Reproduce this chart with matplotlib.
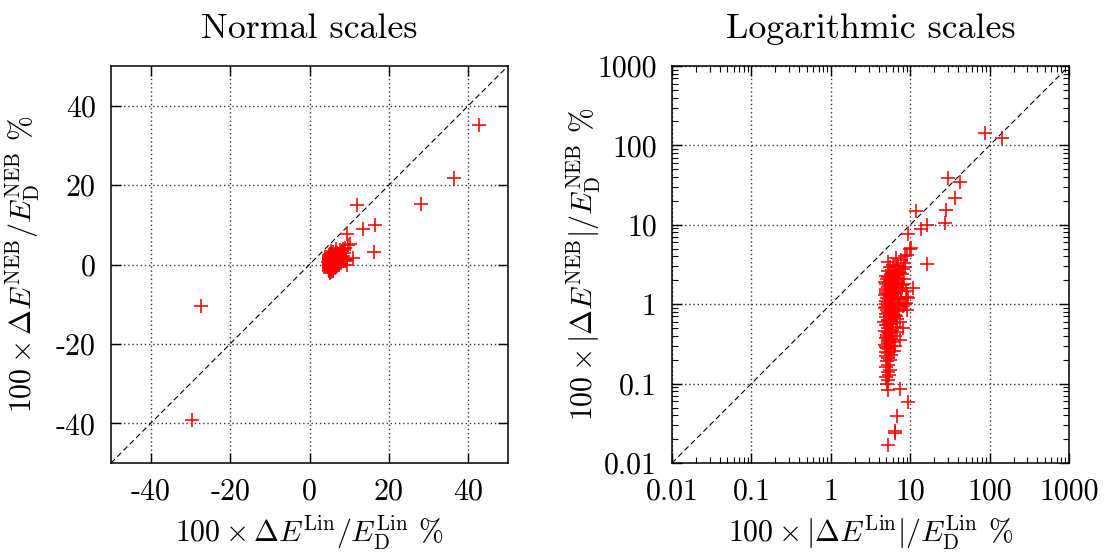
import matplotlib
matplotlib.use("Agg")
import matplotlib.pyplot as plt
import numpy as np
from matplotlib.ticker import FixedLocator, LogLocator, NullFormatter

# ---------------- data (percent errors) ----------------
# 100 x dE_Lin / E_D^Lin  (x) and 100 x dE_NEB / E_D^NEB (y), signed
lin_outliers = [42.6, 36.4, 28.0, 12.0, 16.4, 13.5, 9.4, 16.2, -27.4, -29.7, 87.0, 145.0,
                9.0, 9.8, 10.2, 11.0, 8.5, 6.8, 6.3]
neb_outliers = [35.1, 21.9, 15.2, 14.9, 10.0, 8.9, 7.7, 3.2, -10.5, -39.1, 142.0, 123.0,
                4.2, 4.9, 5.1, 1.6, 4.0, 3.0, 2.45]

lin_cluster = [5.2, 6.4, 6.5, 6.8, 9.5, 7.4, 5.2,
               5.1, 5.3, 5.0, 5.4, 5.2, 5.6, 5.0, 5.3, 5.1, 5.5, 5.2, 4.9, 5.8, 5.3, 5.0,
               6.2, 5.4, 5.1, 5.7, 4.8, 5.3, 6.0, 5.2, 5.5, 4.9, 6.4, 5.1, 5.6, 5.3, 4.8,
               5.9, 5.2, 6.6, 5.0, 5.4, 6.1, 4.7, 5.7, 5.2, 6.8, 5.0, 5.5, 6.3, 4.9, 5.8,
               5.3, 7.0, 5.1, 6.0, 4.8, 5.6, 6.5, 5.2, 7.3, 5.0, 5.9, 4.9, 6.2, 5.4, 6.9,
               5.1, 7.6, 5.7, 4.8, 6.4, 5.3, 5.0, 6.0, 7.1, 5.5, 4.9, 6.6, 5.2, 5.8, 7.8,
               5.0, 6.3, 5.4, 4.8, 6.9, 5.6, 5.1, 7.3, 6.1, 5.3, 4.9, 6.7, 5.7, 7.5, 5.2,
               6.4, 8.0, 5.5, 7.0, 6.0, 8.3, 5.3, 7.6, 6.6,
               5.0, 5.2, 5.4, 5.1, 5.3, 5.6, 4.9, 5.2, 5.5, 5.0, 5.8, 6.1, 5.4, 5.7, 6.3,
               5.1, 6.0, 6.7, 7.2, 5.9, 6.5, 7.9, 8.6, 6.2, 7.0,
               8.8, 9.2, 8.1, 7.7, 8.4, 9.0, 7.4, 6.9, 8.2, 7.1, 8.9, 7.8, 6.7, 8.5, 7.5,
               9.3, 6.8, 8.0, 7.3, 6.4]
neb_cluster = [0.017, -0.025, 0.024, 0.039, -0.059, 0.085, -0.082,
               0.10, -0.11, 0.12, 0.13, -0.14, 0.15, -0.16, 0.17, 0.19, -0.20, 0.21, -0.22,
               0.23, 0.24, 0.25, -0.26, 0.27, -0.28, 0.30, 0.31, -0.32, 0.33, 0.35, -0.36,
               0.38, 0.40, -0.41, 0.43, 0.45, -0.46, 0.48, 0.50, -0.52, 0.54, 0.56, -0.58,
               0.60, 0.62, -0.64, 0.66, 0.68, 0.70, -0.72, 0.75, 0.77, -0.80, 0.82, 0.85,
               0.87, -0.90, 0.92, 0.95, -0.97, 1.00, 1.02, -1.05, 1.10, 1.12, -1.15, 1.18,
               1.20, 1.22, -1.25, 1.30, 1.33, 1.36, -1.40, 1.43, 1.46, 1.50, -1.55, 1.60,
               1.65, -1.70, 1.72, 1.78, 1.82, -1.88, 1.92, 1.97, 2.00, -2.05, 2.10, 2.15,
               2.20, 2.28, 2.35, 2.40, 2.50, 2.60, 2.70, 2.80, 2.90, 3.00, 3.15, 3.30,
               3.40, 3.60, 3.80,
               0.29, -0.34, 0.44, -0.55, 0.63, 0.78, -0.93, 1.08, -1.27, 1.48, 0.57, -0.69,
               1.75, 2.25, -0.86, 0.39, 1.05, 2.05, 2.55, -1.35, 0.74, 1.58, 2.95, 1.40, 1.85,
               1.05, 1.25, 0.95, 1.55, 2.10, 0.85, 0.60, 0.45, 1.80, 1.15, 1.45, 2.40, 0.70,
               1.00, 0.35, 1.20, 1.65, 0.50, 0.90, 0.30]

lin_pct = lin_outliers + lin_cluster
neb_pct = neb_outliers + neb_cluster

lin_ticks = [-40, -20, 0, 20, 40]
lin_ticklabels = ["-40", "-20", "0", "20", "40"]
log_ticks = [0.01, 0.1, 1, 10, 100, 1000]
log_ticklabels = ["0.01", "0.1", "1", "10", "100", "1000"]

# ---------------- style ----------------
plt.rcParams["font.family"] = "serif"
plt.rcParams["font.serif"] = ["cmr10"]
plt.rcParams["mathtext.fontset"] = "cm"
plt.rcParams["axes.formatter.use_mathtext"] = True
plt.rcParams["font.size"] = 21.5

fig = plt.figure(figsize=(11.1, 5.54), dpi=100)
W, H = 1110, 554
rect1 = [111 / W, (H - 463) / H, 397 / W, 397 / H]
rect2 = [672 / W, (H - 463) / H, 397 / W, 397 / H]
ax1 = fig.add_axes(rect1)
ax2 = fig.add_axes(rect2)

grid_kw = dict(color="0.2", linestyle=(0, (1, 2.0)), linewidth=1.0)
mk_kw = dict(linestyle="none", marker="+", color="#ff0000", markersize=10.5, markeredgewidth=1.15)
diag_kw = dict(color="black", linestyle=(0, (5, 3)), linewidth=0.8, zorder=2)

# ----- left: normal scales -----
ax1.plot([-50, 50], [-50, 50], **diag_kw)
ax1.plot(lin_pct, neb_pct, zorder=3, **mk_kw)
ax1.set_xlim(-50, 50)
ax1.set_ylim(-50, 50)
ax1.xaxis.set_major_locator(FixedLocator(lin_ticks))
ax1.yaxis.set_major_locator(FixedLocator(lin_ticks))
ax1.set_xticklabels(lin_ticklabels)
ax1.set_yticklabels(lin_ticklabels)
ax1.grid(True, **grid_kw)
ax1.set_title("Normal scales", pad=20)
ax1.set_xlabel(r"$100\times\Delta E^{\rm Lin}/E_{\rm D}^{\rm Lin}$ %", labelpad=6)
ax1.set_ylabel(r"$100\times\Delta E^{\rm NEB}/E_{\rm D}^{\rm NEB}$ %", labelpad=10)

# ----- right: logarithmic scales -----
ax2.set_xscale("log")
ax2.set_yscale("log")
ax2.plot([0.01, 1000], [0.01, 1000], **diag_kw)
ax2.plot(np.abs(lin_pct), np.abs(neb_pct), zorder=3, **mk_kw)
ax2.set_xlim(0.01, 1000)
ax2.set_ylim(0.01, 1000)
for axis in (ax2.xaxis, ax2.yaxis):
    axis.set_major_locator(FixedLocator(log_ticks))
    axis.set_minor_locator(LogLocator(base=10, subs=np.arange(2, 10), numticks=20))
    axis.set_minor_formatter(NullFormatter())
ax2.set_xticklabels(log_ticklabels)
ax2.set_yticklabels(log_ticklabels)
ax2.grid(True, which="major", **grid_kw)
ax2.set_title("Logarithmic scales", pad=20)
ax2.set_xlabel(r"$100\times|\Delta E^{\rm Lin}|/E_{\rm D}^{\rm Lin}$ %", labelpad=6)
ax2.set_ylabel(r"$100\times|\Delta E^{\rm NEB}|/E_{\rm D}^{\rm NEB}$ %", labelpad=-4)

for ax in (ax1, ax2):
    for s in ax.spines.values():
        s.set_linewidth(1.1)
    ax.tick_params(which="major", direction="in", length=7, width=1.0,
                   top=True, right=True, pad=11)
    ax.tick_params(which="minor", direction="in", length=4, width=0.8,
                   top=True, right=True)
    ax.set_axisbelow(True)

fig.savefig("out.png", dpi=100)
